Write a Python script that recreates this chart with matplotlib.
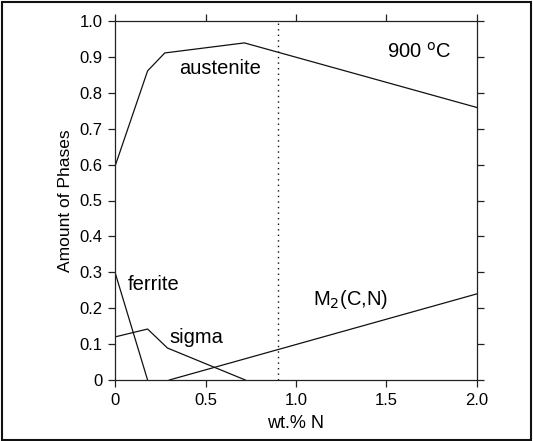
import matplotlib
matplotlib.use("Agg")
import matplotlib.pyplot as plt
from matplotlib.patches import Rectangle

plt.rcParams['font.family'] = ['Liberation Sans', 'DejaVu Sans']

# Data (wt.% N vs amount of phases)
austenite_x = [0.0, 0.18, 0.275, 0.715, 2.0]
austenite_y = [0.595, 0.861, 0.911, 0.939, 0.759]
ferrite_x = [0.0, 0.18]
ferrite_y = [0.30, 0.0]
sigma_x = [0.0, 0.18, 0.29, 0.72]
sigma_y = [0.12, 0.142, 0.089, 0.0]
m2_x = [0.30, 2.0]
m2_y = [0.0, 0.24]
dotted_x = 0.9

xticks = [0, 0.5, 1.0, 1.5, 2.0]
xtick_labels = ["0", "0.5", "1.0", "1.5", "2.0"]
yticks = [0, 0.1, 0.2, 0.3, 0.4, 0.5, 0.6, 0.7, 0.8, 0.9, 1.0]
ytick_labels = ["0", "0.1", "0.2", "0.3", "0.4", "0.5", "0.6", "0.7", "0.8", "0.9", "1.0"]

W, H = 533, 441
fig = plt.figure(figsize=(W / 100, H / 100), dpi=100)
left, right, top, bottom = 115, 477, 21, 380
ax = fig.add_axes([left / W, 1 - bottom / H, (right - left) / W, (bottom - top) / H])

lc = "#111111"
lw = 0.9
ax.plot(austenite_x, austenite_y, color=lc, lw=lw)
ax.plot(ferrite_x, ferrite_y, color=lc, lw=lw)
ax.plot(sigma_x, sigma_y, color=lc, lw=lw)
ax.plot(m2_x, m2_y, color=lc, lw=lw)
ax.axvline(dotted_x, color=lc, lw=1.0, linestyle=(0, (1, 3)))

ax.set_xlim(0, 2.0)
ax.set_ylim(0, 1.0)
ax.set_xticks(xticks)
ax.set_xticklabels(xtick_labels)
ax.set_yticks(yticks)
ax.set_yticklabels(ytick_labels)
ax.tick_params(direction='out', length=5.0, width=0.9, color="#222222",
               labelsize=12, top=True, right=True,
               labeltop=False, labelright=False)
ax.tick_params(axis='y', pad=3.8)
ax.tick_params(axis='x', pad=4.5)
for s in ax.spines.values():
    s.set_linewidth(0.9)
    s.set_color("#222222")

ax.set_xlabel("wt.% N", fontsize=13, labelpad=5)
ax.set_ylabel("Amount of Phases", fontsize=12.5, labelpad=5)

fs = 14.5
ax.text(0.58, 0.867, "austenite", fontsize=fs, ha='center', va='center')
ax.text(1.68, 0.914, r"900 $^{\mathrm{o}}$C", fontsize=fs, ha='center', va='center')
ax.text(0.213, 0.265, "ferrite", fontsize=fs, ha='center', va='center')
ax.text(0.448, 0.117, "sigma", fontsize=fs, ha='center', va='center')
ax.text(1.30, 0.223, r"M$_2$(C,N)", fontsize=fs, ha='center', va='center')

fig.add_artist(Rectangle((0.004, 0.003), 0.992, 0.992, transform=fig.transFigure,
                         fill=False, edgecolor="#111111", lw=1.5))

fig.savefig("out.png", dpi=100)
